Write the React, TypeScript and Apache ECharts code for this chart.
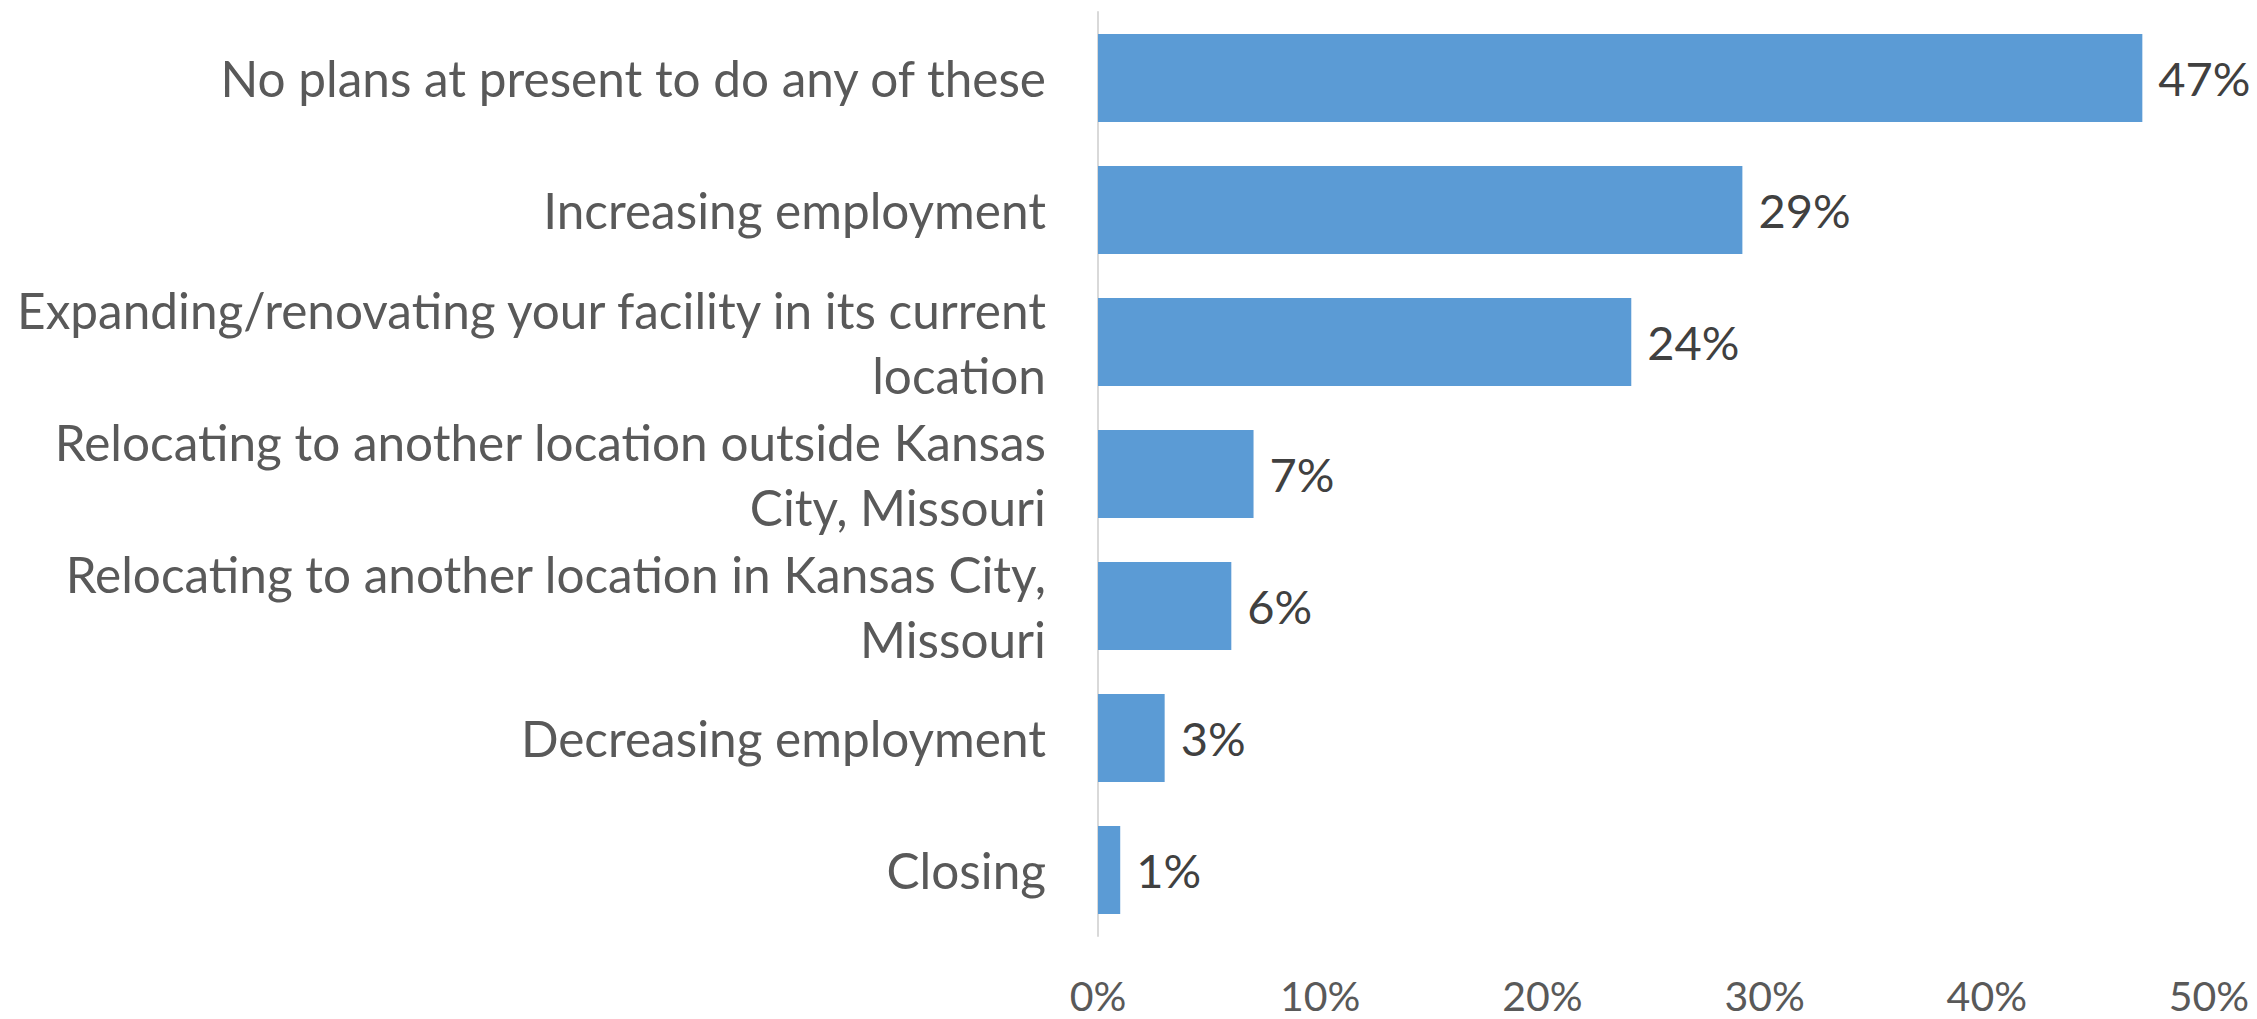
import React, { useEffect, useRef } from "react";
import * as echarts from "echarts";

const categories: string[] = [
  "No plans at present to do any of these",
  "Increasing employment",
  "Expanding/renovating your facility in its current\nlocation",
  "Relocating to another location outside Kansas\nCity, Missouri",
  "Relocating to another location in Kansas City,\nMissouri",
  "Decreasing employment",
  "Closing",
];
const values: number[] = [47, 29, 24, 7, 6, 3, 1];
const xTicks: number[] = [0, 10, 20, 30, 40, 50];

const FONT = "Lato, 'Open Sans', sans-serif";

export default function App() {
  const ref = useRef<HTMLDivElement>(null);
  useEffect(() => {
    if (!ref.current) return;
    const chart = echarts.init(ref.current, undefined, { renderer: "svg" });
    chart.setOption({
      animation: false,
      backgroundColor: "#ffffff",
      grid: {
        left: 1098,
        right: 48,
        top: 12,
        bottom: 83,
        containLabel: false,
        outerBoundsMode: "none",
      },
      xAxis: {
        type: "value",
        min: xTicks[0],
        max: xTicks[xTicks.length - 1],
        interval: 10,
        axisLine: { show: false },
        axisTick: { show: false },
        splitLine: { show: false },
        axisLabel: {
          formatter: "{value}%",
          color: "#595959",
          fontSize: 41,
          lineHeight: 40,
          fontFamily: FONT,
          margin: 39,
        },
      },
      yAxis: {
        type: "category",
        inverse: true,
        data: categories,
        axisLine: { show: true, lineStyle: { color: "#d9d9d9", width: 2 } },
        axisTick: { show: false },
        axisLabel: {
          color: "#595959",
          fontSize: 49.5,
          lineHeight: 65,
          fontFamily: FONT,
          margin: 52,
          align: "right",
        },
      },
      series: [
        {
          type: "bar",
          data: values,
          barWidth: 88,
          itemStyle: { color: "#5B9BD5" },
          label: {
            show: true,
            position: "right",
            distance: 16,
            formatter: "{c}%",
            color: "#404040",
            fontSize: 47,
            fontFamily: FONT,
          },
        },
      ],
    });
    return () => chart.dispose();
  }, []);
  return (
    <div
      ref={ref}
      style={{ position: "fixed", left: 0, top: 0, width: 2257, height: 1019, background: "#fff" }}
    />
  );
}
